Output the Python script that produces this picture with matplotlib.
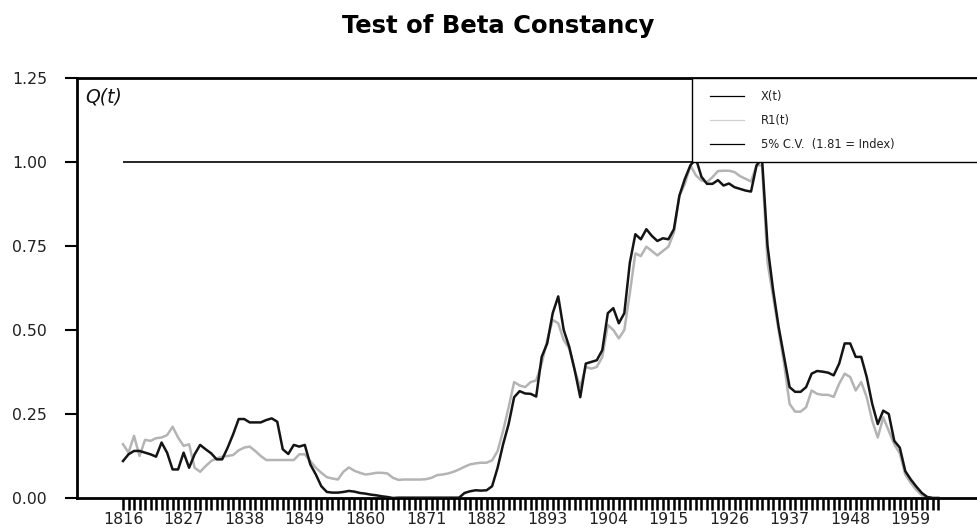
import matplotlib
matplotlib.use("Agg")
import matplotlib.pyplot as plt
from matplotlib.lines import Line2D
from matplotlib.patches import Rectangle
import numpy as np

years = list(range(1816, 1965))

x_t = [0.11, 0.13, 0.14, 0.14, 0.135, 0.13, 0.123, 0.165, 0.135, 0.085,
       0.085, 0.135, 0.09, 0.13, 0.158, 0.145, 0.133, 0.115, 0.115, 0.15,
       0.19, 0.235, 0.235, 0.225, 0.225, 0.225, 0.232, 0.237, 0.227, 0.145,
       0.131, 0.158, 0.153, 0.158, 0.10, 0.07, 0.035, 0.018, 0.016, 0.016,
       0.018, 0.021, 0.019, 0.015, 0.013, 0.01, 0.008, 0.005, 0.003, 0.0,
       0.001, 0.001, 0.001, 0.001, 0.001, 0.001, 0.001, 0.001, 0.001, 0.001,
       0.001, 0.001, 0.015, 0.02, 0.023, 0.022, 0.023, 0.035, 0.09, 0.16,
       0.22, 0.30, 0.318, 0.311, 0.31, 0.302, 0.42, 0.46, 0.55, 0.60,
       0.50, 0.45, 0.38, 0.30, 0.40, 0.405, 0.41, 0.44, 0.55, 0.565,
       0.52, 0.55, 0.70, 0.785, 0.77, 0.80, 0.78, 0.765, 0.773, 0.77,
       0.80, 0.90, 0.95, 0.99, 1.01, 0.956, 0.935, 0.935, 0.946, 0.93,
       0.936, 0.925, 0.92, 0.915, 0.912, 0.99, 1.01, 0.75, 0.62, 0.51,
       0.42, 0.33, 0.316, 0.316, 0.33, 0.37, 0.378, 0.376, 0.373, 0.365,
       0.40, 0.46, 0.46, 0.42, 0.42, 0.36, 0.28, 0.22, 0.26, 0.25,
       0.17, 0.15, 0.08, 0.055, 0.034, 0.015, 0.003, 0.0, 0.0]

r1_t = [0.16, 0.135, 0.185, 0.125, 0.173, 0.17, 0.178, 0.18, 0.187, 0.212,
        0.18, 0.155, 0.16, 0.09, 0.078, 0.095, 0.11, 0.118, 0.123, 0.125,
        0.128, 0.142, 0.15, 0.153, 0.14, 0.125, 0.113, 0.113, 0.113, 0.113,
        0.113, 0.113, 0.13, 0.13, 0.11, 0.09, 0.075, 0.062, 0.058, 0.055,
        0.078, 0.091, 0.081, 0.075, 0.07, 0.072, 0.075, 0.075, 0.073, 0.06,
        0.054, 0.055, 0.055, 0.055, 0.055, 0.056, 0.06, 0.068, 0.07, 0.073,
        0.078, 0.085, 0.093, 0.10, 0.103, 0.105, 0.105, 0.112, 0.14, 0.20,
        0.27, 0.345, 0.335, 0.33, 0.345, 0.35, 0.40, 0.47, 0.53, 0.52,
        0.47, 0.445, 0.38, 0.33, 0.39, 0.385, 0.39, 0.42, 0.515, 0.50,
        0.475, 0.50, 0.61, 0.728, 0.72, 0.748, 0.735, 0.722, 0.735, 0.748,
        0.79, 0.90, 0.935, 0.99, 0.96, 0.945, 0.94, 0.955, 0.973, 0.974,
        0.974, 0.97, 0.958, 0.95, 0.942, 0.99, 0.99, 0.70, 0.60, 0.50,
        0.40, 0.28, 0.257, 0.257, 0.27, 0.32, 0.31, 0.307, 0.307, 0.301,
        0.34, 0.37, 0.36, 0.32, 0.345, 0.30, 0.23, 0.18, 0.24, 0.20,
        0.16, 0.133, 0.07, 0.045, 0.024, 0.008, 0.002, 0.0, 0.0]

cv_value = 1.0
label_years = list(range(1816, 1960, 11))
y_ticks = [0.0, 0.25, 0.5, 0.75, 1.0, 1.25]
legend_labels = ["X(t)", "R1(t)", "5% C.V.  (1.81 = Index)"]
title = "Test of Beta Constancy"

fig = plt.figure(figsize=(9.78, 5.29), dpi=100)
ax = fig.add_axes([77/978, 1-498/529, 901/978, 420/529])

ax.plot(years, r1_t, color="#b4b4b4", lw=1.8, zorder=2)
ax.plot(years, x_t, color="#141414", lw=1.8, zorder=3)

xmin, xmax = 1807.65, 1971.2
ax.hlines(cv_value, years[0], xmax, color="black", lw=1.2, zorder=4)
ax.set_xlim(xmin, xmax)
ax.set_ylim(0, 1.25)

# legend box
rect = Rectangle((0.6826, 0.8), 0.35, 0.2, transform=ax.transAxes,
                 facecolor="white", edgecolor="black", lw=1.0, zorder=5,
                 clip_on=False)
ax.add_patch(rect)
handles = [Line2D([], [], color="black", lw=0.9),
           Line2D([], [], color="#d0d0d0", lw=0.9),
           Line2D([], [], color="black", lw=0.9)]
leg = ax.legend(handles, legend_labels, loc="upper left",
                bbox_to_anchor=(0.703, 0.972), frameon=False,
                fontsize=8.3, handlelength=2.9, handletextpad=1.5,
                labelspacing=0.95, borderpad=0, borderaxespad=0)
leg.set_zorder(6)
for t in leg.get_texts():
    t.set_color("#202020")

# spines
for s in ["left", "top", "bottom"]:
    ax.spines[s].set_linewidth(2.0)
    ax.spines[s].set_color("black")
ax.spines["right"].set_visible(False)

ax.set_yticks(y_ticks)
ax.set_yticklabels([f"{v:.2f}" for v in y_ticks])
ax.tick_params(axis="y", direction="out", length=8.6, width=1.5, pad=13,
               labelsize=11.3, labelcolor="#202020")

ax.set_xticks(years)
ax.set_xticklabels([str(y) if y in label_years else "" for y in years])
ax.tick_params(axis="x", direction="out", length=8.6, width=1.8, pad=1.5,
               labelsize=11.3, labelcolor="#202020")

ax.text(0.009, 0.978, "Q(t)", transform=ax.transAxes, fontsize=13.5,
        fontstyle="italic", va="top", ha="left", color="#101010")

fig.text(498/978, 1-26/529, title, ha="center", va="center",
         fontsize=17.5, fontweight="bold", color="black")

fig.savefig("out.png", dpi=100)
